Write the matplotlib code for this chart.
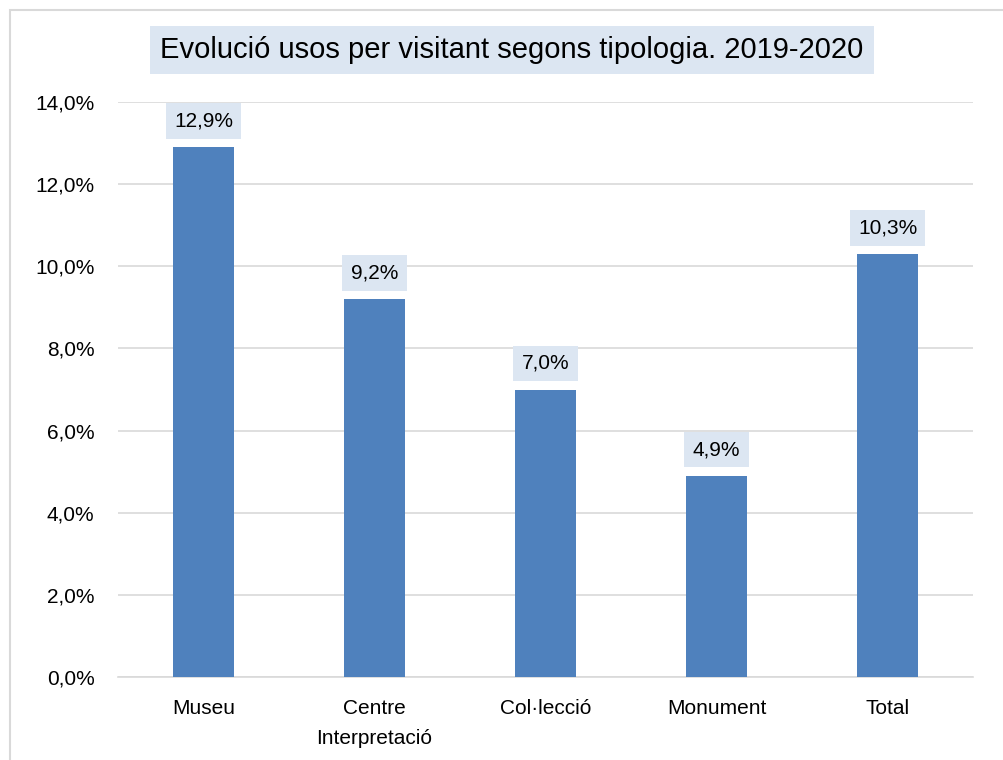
import matplotlib.pyplot as plt
from matplotlib.patches import Rectangle
from matplotlib.ticker import FuncFormatter

plt.rcParams['font.family'] = ['Liberation Sans Narrow', 'Liberation Sans', 'DejaVu Sans']

categories = ['Museu', 'Centre\nInterpretació', 'Col·lecció', 'Monument', 'Total']
values = [12.9, 9.2, 7.0, 4.9, 10.3]
yticks = [0, 2, 4, 6, 8, 10, 12, 14]

bar_color = '#4F81BD'
box_color = '#DCE6F2'

fig = plt.figure(figsize=(10.04, 7.6), dpi=100)
ax = fig.add_axes([118/1004, 1-677/760, (973-118)/1004, (677-102)/760])

# outer frame like the excel chart area
fig.patches.append(Rectangle((10/1004, -0.02), 1.0, 1-10/760+0.02, transform=fig.transFigure,
                             fill=False, edgecolor='#D9D9D9', linewidth=1.5))

x = range(len(categories))
ax.bar(x, values, width=0.36, color=bar_color, zorder=3)
ax.set_xlim(-0.5, len(categories)-0.5)
ax.set_ylim(0, 14)
ax.set_yticks(yticks)
ax.yaxis.set_major_formatter(FuncFormatter(lambda v, p: ('%.1f%%' % v).replace('.', ',')))
ax.set_xticks(list(x))
ax.set_xticklabels(categories, fontsize=15, linespacing=1.75)
ax.tick_params(axis='y', labelsize=15, length=0, pad=17)
ax.tick_params(axis='x', length=0, pad=16)
ax.grid(axis='y', color='#D9D9D9', linewidth=1.2, zorder=0)
for s in ['top', 'right', 'left']:
    ax.spines[s].set_visible(False)
ax.spines['bottom'].set_color('#D9D9D9')
ax.spines['bottom'].set_linewidth(1.2)

for i, v in enumerate(values):
    ax.annotate(('%.1f%%' % v).replace('.', ','), (i, v), xytext=(0, 12), textcoords='offset points',
                ha='center', va='bottom', fontsize=15,
                bbox=dict(boxstyle='square,pad=0.4', facecolor=box_color, edgecolor='none'))

fig.text(0.510, 1-50/760, 'Evolució usos per visitant segons tipologia. 2019-2020', ha='center', va='center',
         fontsize=21, bbox=dict(boxstyle='square,pad=0.35', facecolor=box_color, edgecolor='none'))

fig.savefig('out.png', dpi=100)
